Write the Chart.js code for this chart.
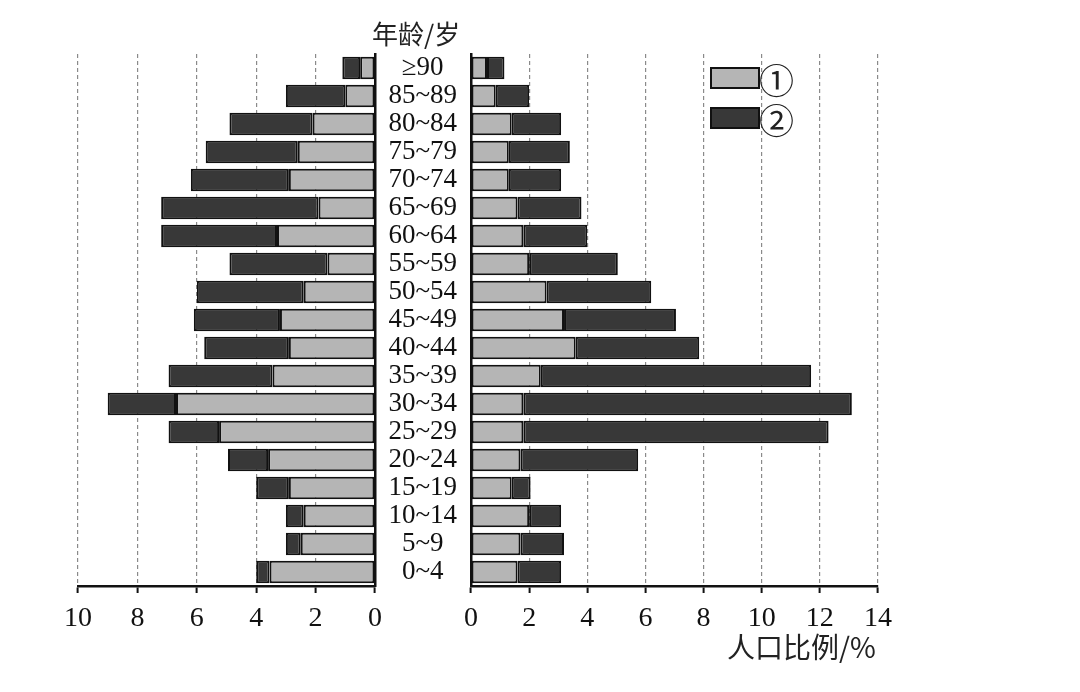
<!DOCTYPE html>
<html>
<head>
<meta charset="utf-8">
<script src="https://cdn.jsdelivr.net/npm/chart.js@4"></script>
<style>
  body { margin: 0; background: #fff; }
  #wrap { position: relative; width: 1080px; height: 692px; overflow: hidden; }
  #left-box { position: absolute; left: 0; top: 0; width: 400px; height: 692px; }
  #right-box { position: absolute; left: 375px; top: 0; width: 705px; height: 692px; }
  .txt { position: absolute; font-family: "Noto Sans CJK SC", sans-serif; color: #222; white-space: nowrap; }
  .swatch { position: absolute; width: 46px; height: 18px; border: 2px solid #111; }
</style>
</head>
<body>
<div id="wrap">
  <div id="left-box"><canvas id="leftChart"></canvas></div>
  <div id="right-box"><canvas id="rightChart"></canvas></div>

  <div class="txt" style="left:372px; top:14px; font-size:26px;">年龄/岁</div>
  <div class="txt" style="left:727px; top:626px; font-size:28px;">人口比例/%</div>

  <!-- legend -->
  <div class="swatch" style="left:710px; top:67px; background:#b5b5b5;"></div>
  <div class="txt" style="left:759px; top:53px; font-size:35px;">①</div>
  <div class="swatch" style="left:710px; top:107px; background:#383838;"></div>
  <div class="txt" style="left:759px; top:93px; font-size:35px;">②</div>
</div>

<script>
// Age groups (bottom to top)
const ageGroups = ["0~4", "5~9", "10~14", "15~19", "20~24", "25~29", "30~34", "35~39", "40~44",
    "45~49", "50~54", "55~59", "60~64", "65~69", "70~74", "75~79", "80~84", "85~89", "≥90"];

// Left half: segment lengths, ① nearest the middle, ② stacked outside
const leftOne = [3.55, 2.5, 2.4, 2.9, 3.6, 5.25, 6.7, 3.45, 2.9, 3.2, 2.4, 1.6, 3.3, 1.9, 2.9, 2.6, 2.1, 1.0, 0.5];
const leftTwo = [0.45, 0.5, 0.6, 1.1, 1.35, 1.7, 2.3, 3.5, 2.85, 2.9, 3.6, 3.3, 3.9, 5.3, 3.3, 3.1, 2.8, 2.0, 0.6];

// Right half
const rightOne = [1.6, 1.7, 2.0, 1.4, 1.7, 1.8, 1.8, 2.4, 3.6, 3.2, 2.6, 2.0, 1.8, 1.6, 1.3, 1.3, 1.4, 0.85, 0.55];
const rightTwo = [1.5, 1.5, 1.1, 0.65, 4.05, 10.5, 11.3, 9.3, 4.25, 3.85, 3.6, 3.05, 2.2, 2.2, 1.8, 2.1, 1.7, 1.15, 0.6];

// Colors
const lightGray = "#b5b5b5";
const darkGray = "#383838";
const edge = "#111";

Chart.defaults.animation = false;
Chart.defaults.font.family = "'Liberation Serif', serif";
Chart.defaults.color = "#111";

function makeDatasets(one, two) {
    const common = {
        borderColor: edge,
        borderWidth: 2,
        borderSkipped: false,
        categoryPercentage: 0.8,
        barPercentage: 1.0,
    };
    return [
        { label: "①", data: one, backgroundColor: lightGray, ...common },
        { label: "②", data: two, backgroundColor: darkGray, ...common },
    ];
}

// Shared x axis look
function xAxis(max, reverse) {
    return {
        type: "linear",
        stacked: true,
        reverse: reverse,
        min: 0,
        max: max,
        ticks: {
            stepSize: 2,
            padding: 9,
            font: { size: 28 },
            color: "#111",
        },
        grid: {
            color: "#8a8a8a",
            lineWidth: 1.2,
            tickColor: edge,
            tickLength: 7,
            tickWidth: 2,
            tickBorderDash: [],
        },
        border: { display: true, color: edge, width: 2.5, dash: [4, 3] },
        afterFit: scale => { scale.height = 50; },
    };
}

// Left half of the pyramid
const leftChart = new Chart(document.querySelector("#leftChart"), {
    type: "bar",
    data: { labels: ageGroups, datasets: makeDatasets(leftOne, leftTwo) },
    options: {
        indexAxis: "y",
        maintainAspectRatio: false,
        responsive: true,
        layout: { padding: { left: 78, right: 25, top: 54, bottom: 56 } },
        plugins: { legend: { display: false }, tooltip: { enabled: false } },
        scales: {
            x: xAxis(10, true),
            y: {
                stacked: true,
                reverse: true,
                position: "right",
                ticks: { display: false },
                grid: { display: false, drawTicks: false },
                border: { display: true, color: edge, width: 2.5 },
                afterFit: scale => { scale.width = 0; },
            },
        },
    },
});

// Right half, age labels sit in its y axis
const rightChart = new Chart(document.querySelector("#rightChart"), {
    type: "bar",
    data: { labels: ageGroups, datasets: makeDatasets(rightOne, rightTwo) },
    options: {
        indexAxis: "y",
        maintainAspectRatio: false,
        responsive: true,
        layout: { padding: { left: 0, right: 202, top: 54, bottom: 56 } },
        plugins: { legend: { display: false }, tooltip: { enabled: false } },
        scales: {
            x: xAxis(14, false),
            y: {
                stacked: true,
                reverse: true,
                position: "left",
                ticks: {
                    autoSkip: false,
                    crossAlign: "center",
                    padding: 14,
                    font: { size: 27 },
                    color: "#111",
                },
                grid: { display: false, drawTicks: false },
                border: { display: true, color: edge, width: 2.5 },
                afterFit: scale => { scale.width = 96; },
            },
        },
    },
});
</script>
</body>
</html>
